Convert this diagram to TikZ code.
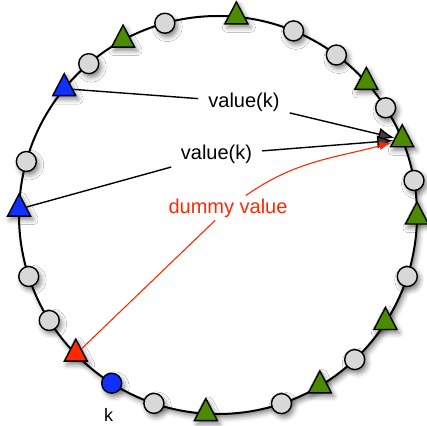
\documentclass[tikz,border=0pt]{standalone}
\usepackage{fontspec}
\setmainfont{Liberation Sans}
\usetikzlibrary{arrows.meta, positioning, shapes.geometric, shadows.blur}
\definecolor{nodegray}{RGB}{216,216,216}
\definecolor{keygreen}{RGB}{76,138,0}
\definecolor{keyblue}{RGB}{16,48,255}
\definecolor{keyred}{RGB}{255,40,0}

\begin{document}
\begin{tikzpicture}[x=1pt, y=1pt, font=\fontsize{20}{24}\selectfont,
  soft/.style={blur shadow={shadow xshift=2.5pt, shadow yshift=-3.5pt, shadow blur radius=5pt, shadow opacity=50}},
  dot/.style={circle, draw, line width=1.4pt, minimum size=20pt, inner sep=0pt, soft},
  tri/.style={isosceles triangle, isosceles triangle stretches, shape border rotate=90,
    minimum width=23pt, minimum height=22pt, inner sep=0pt, draw, line width=1.4pt, soft},
  lbl/.style={inner xsep=10pt, inner ysep=3pt}]
  \def\r{199}
  \useasboundingbox (-218,-210) rectangle (209,215);

  % the ring
  \draw[line width=2pt, fill=white, soft] (0,0) circle (\r);

  % plain nodes on the ring
  \foreach \a [count=\i] in {105.5,130.5,164.4,198,212,251.2,288.6,313.4,342,10,32.6,53.5,67.7}
    \node[dot, fill=nodegray] (gray\i) at (\a:\r) {};
  \foreach \a [count=\i] in {84.7,118.5,266.5,300.8,327.3,359.4,41.8}
    \node[tri, fill=keygreen] (green\i) at (\a:\r) {};

  % the nodes that take part
  \node[tri, fill=keyblue] (blueA) at (140.6:\r) {};
  \node[tri, fill=keyblue] (blueB) at (178.3:\r) {};
  \node[tri, fill=keyred] (redA) at (224.4:\r) {};
  \node[tri, fill=keygreen] (target) at (22.2:\r) {};
  \node[dot, fill=keyblue] (kdot) at (237.7:\r) {};
  \node[below=11pt of kdot, xshift=-3pt, font=\fontsize{18}{20}\selectfont] (klbl) {k};

  % labels
  \node[lbl] (valA) at (26,113) {value(k)};
  \node[lbl] (valB) at (-1.5,60.5) {value(k)};
  \node[lbl, text=keyred] (dummy) at (10,7) {dummy value};

  % arrows
  \draw[line width=1.4pt] (blueA) -- (valA);
  \draw[line width=1.4pt, -{Latex[length=16pt,width=13pt]}] (valA) -- (target);
  \draw[line width=1.4pt] (blueB) -- (valB);
  \draw[line width=1.4pt, -{Latex[length=16pt,width=13pt]}] (valB) -- (target);
  \draw[keyred, line width=1.1pt] (redA) -- (dummy);
  \draw[keyred, line width=1.1pt, -{Latex[length=13pt,width=8pt]}] (dummy) to[out=35, in=195] (target);
\end{tikzpicture}
\end{document}
